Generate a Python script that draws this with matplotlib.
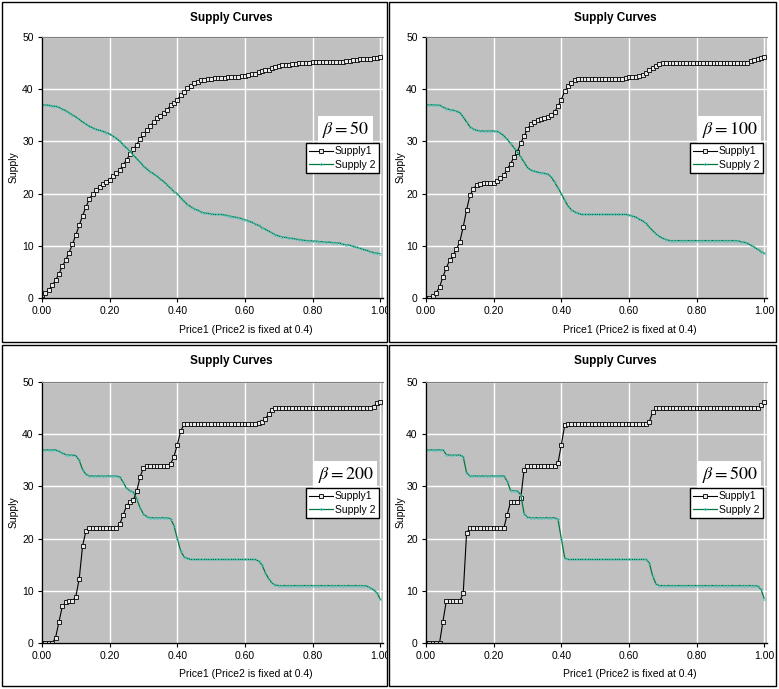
import numpy as np
import matplotlib.pyplot as plt
from matplotlib.patches import Rectangle

plt.rcParams['font.family'] = ['Liberation Sans', 'DejaVu Sans']
plt.rcParams['mathtext.fontset'] = 'stix'

# price1 runs from 0.00 to 1.00 in steps of 0.01
price1 = np.round(np.arange(101) * 0.01, 2)
betas = [50, 100, 200, 500]

supply1_b50 = [
    0.6, 1.0, 1.5, 2.4, 3.4, 4.6, 6.1, 7.2, 8.7, 10.3,
    12.1, 13.9, 15.8, 17.4, 19.0, 19.9, 20.6, 21.3, 21.8, 22.3,
    22.7, 23.3, 23.9, 24.5, 25.5, 26.5, 27.5, 28.5, 29.4, 30.5,
    31.4, 32.1, 32.9, 33.7, 34.4, 34.9, 35.4, 36.0, 36.9, 37.4,
    38.0, 38.8, 39.5, 40.2, 40.7, 41.1, 41.4, 41.7, 41.8, 41.9,
    42.0, 42.1, 42.1, 42.2, 42.2, 42.3, 42.3, 42.3, 42.4, 42.5,
    42.6, 42.7, 42.9, 43.0, 43.2, 43.4, 43.6, 43.7, 44.0, 44.2,
    44.4, 44.6, 44.6, 44.7, 44.8, 44.9, 45.0, 45.0, 45.0, 45.1,
    45.2, 45.2, 45.2, 45.2, 45.2, 45.2, 45.2, 45.2, 45.2, 45.3,
    45.4, 45.4, 45.5, 45.5, 45.7, 45.7, 45.7, 45.8, 45.9, 46.0,
    46.2]
supply2_b50 = [
    37.0, 37.0, 36.9, 36.8, 36.7, 36.5, 36.2, 35.9, 35.5, 35.1,
    34.7, 34.2, 33.7, 33.3, 32.9, 32.6, 32.3, 32.1, 31.9, 31.7,
    31.4, 31.0, 30.6, 30.0, 29.4, 28.7, 28.1, 27.4, 26.7, 26.0,
    25.3, 24.7, 24.2, 23.8, 23.3, 22.8, 22.3, 21.7, 21.0, 20.4,
    20.0, 19.2, 18.5, 17.9, 17.5, 17.1, 16.8, 16.5, 16.3, 16.2,
    16.1, 16.0, 16.0, 16.0, 15.9, 15.8, 15.6, 15.5, 15.4, 15.2,
    15.0, 14.8, 14.5, 14.2, 13.9, 13.5, 13.2, 12.8, 12.5, 12.1,
    11.9, 11.7, 11.6, 11.5, 11.4, 11.3, 11.2, 11.1, 11.0, 11.0,
    10.9, 10.9, 10.8, 10.8, 10.7, 10.7, 10.6, 10.6, 10.5, 10.3,
    10.2, 10.1, 9.9, 9.7, 9.5, 9.3, 9.1, 8.9, 8.7, 8.6,
    8.5]

supply1_b100 = [
    0.0, 0.0, 0.3, 1.0, 2.1, 4.0, 5.8, 7.2, 8.2, 9.3,
    10.8, 13.6, 16.9, 19.7, 20.9, 21.7, 21.9, 22.0, 22.0, 22.0,
    22.1, 22.4, 22.9, 23.5, 24.7, 25.7, 27.0, 28.0, 29.7, 31.0,
    32.4, 33.3, 33.8, 34.1, 34.3, 34.4, 34.6, 35.0, 35.7, 36.7,
    38.0, 39.6, 40.6, 41.2, 41.7, 41.9, 42.0, 42.0, 42.0, 42.0,
    42.0, 42.0, 42.0, 42.0, 42.0, 42.0, 42.0, 42.0, 42.0, 42.1,
    42.3, 42.4, 42.4, 42.6, 42.7, 43.1, 43.6, 44.0, 44.4, 44.8,
    45.0, 45.0, 45.0, 45.0, 45.0, 45.0, 45.0, 45.0, 45.0, 45.0,
    45.0, 45.0, 45.0, 45.0, 45.0, 45.0, 45.0, 45.0, 45.0, 45.0,
    45.0, 45.0, 45.0, 45.0, 45.0, 45.1, 45.4, 45.6, 45.7, 45.9,
    46.2]
supply2_b100 = [
    37.0, 37.0, 37.0, 37.0, 36.9, 36.6, 36.3, 36.1, 36.0, 35.8,
    35.5, 34.7, 33.7, 32.8, 32.4, 32.1, 32.0, 32.0, 32.0, 32.0,
    32.0, 31.9, 31.6, 31.1, 30.4, 29.6, 28.8, 28.0, 27.0, 26.0,
    25.0, 24.5, 24.3, 24.1, 24.0, 23.9, 23.7, 23.2, 22.2, 21.1,
    20.0, 18.7, 17.6, 16.9, 16.5, 16.2, 16.0, 16.0, 16.0, 16.0,
    16.0, 16.0, 16.0, 16.0, 16.0, 16.0, 16.0, 16.0, 16.0, 16.0,
    15.9, 15.7, 15.5, 15.1, 14.8, 14.3, 13.6, 12.9, 12.3, 11.8,
    11.4, 11.2, 11.0, 11.0, 11.0, 11.0, 11.0, 11.0, 11.0, 11.0,
    11.0, 11.0, 11.0, 11.0, 11.0, 11.0, 11.0, 11.0, 11.0, 11.0,
    11.0, 11.0, 11.0, 10.8, 10.7, 10.5, 10.1, 9.8, 9.3, 8.9,
    8.6]

supply1_b200 = [
    0.0, 0.0, 0.0, 0.0, 1.0, 4.0, 7.0, 7.8, 8.0, 8.0,
    8.9, 12.3, 18.6, 21.5, 22.0, 22.0, 22.0, 22.0, 22.0, 22.0,
    22.0, 22.0, 22.0, 22.8, 24.5, 26.3, 27.0, 27.4, 29.1, 31.8,
    33.6, 34.0, 34.0, 34.0, 34.0, 34.0, 34.0, 34.0, 34.3, 35.7,
    38.0, 40.6, 41.9, 42.0, 42.0, 42.0, 42.0, 42.0, 42.0, 42.0,
    42.0, 42.0, 42.0, 42.0, 42.0, 42.0, 42.0, 42.0, 42.0, 42.0,
    42.0, 42.0, 42.0, 42.0, 42.1, 42.4, 42.9, 43.9, 44.7, 45.0,
    45.0, 45.0, 45.0, 45.0, 45.0, 45.0, 45.0, 45.0, 45.0, 45.0,
    45.0, 45.0, 45.0, 45.0, 45.0, 45.0, 45.0, 45.0, 45.0, 45.0,
    45.0, 45.0, 45.0, 45.0, 45.0, 45.0, 45.0, 45.0, 45.3, 45.9,
    46.2]
supply2_b200 = [
    37.0, 37.0, 37.0, 37.0, 37.0, 36.7, 36.4, 36.1, 36.0, 36.0,
    35.9, 35.0, 33.2, 32.3, 32.0, 32.0, 32.0, 32.0, 32.0, 32.0,
    32.0, 32.0, 32.0, 31.8, 30.8, 29.6, 29.2, 28.9, 27.6, 25.9,
    24.7, 24.2, 24.0, 24.0, 24.0, 24.0, 24.0, 24.0, 23.8, 22.5,
    20.0, 17.6, 16.5, 16.2, 16.0, 16.0, 16.0, 16.0, 16.0, 16.0,
    16.0, 16.0, 16.0, 16.0, 16.0, 16.0, 16.0, 16.0, 16.0, 16.0,
    16.0, 16.0, 16.0, 16.0, 15.7, 15.0, 13.5, 12.3, 11.5, 11.1,
    11.0, 11.0, 11.0, 11.0, 11.0, 11.0, 11.0, 11.0, 11.0, 11.0,
    11.0, 11.0, 11.0, 11.0, 11.0, 11.0, 11.0, 11.0, 11.0, 11.0,
    11.0, 11.0, 11.0, 11.0, 11.0, 11.0, 10.9, 10.6, 10.2, 9.6,
    8.4]

supply1_b500 = [
    0.0, 0.0, 0.0, 0.0, 0.0, 4.1, 8.0, 8.0, 8.0, 8.0,
    8.0, 9.5, 21.1, 22.0, 22.0, 22.0, 22.0, 22.0, 22.0, 22.0,
    22.0, 22.0, 22.0, 22.0, 24.6, 27.0, 27.0, 27.0, 27.7, 33.2,
    34.0, 34.0, 34.0, 34.0, 34.0, 34.0, 34.0, 34.0, 34.0, 34.4,
    38.0, 41.7, 42.0, 42.0, 42.0, 42.0, 42.0, 42.0, 42.0, 42.0,
    42.0, 42.0, 42.0, 42.0, 42.0, 42.0, 42.0, 42.0, 42.0, 42.0,
    42.0, 42.0, 42.0, 42.0, 42.0, 42.0, 42.4, 44.2, 45.0, 45.0,
    45.0, 45.0, 45.0, 45.0, 45.0, 45.0, 45.0, 45.0, 45.0, 45.0,
    45.0, 45.0, 45.0, 45.0, 45.0, 45.0, 45.0, 45.0, 45.0, 45.0,
    45.0, 45.0, 45.0, 45.0, 45.0, 45.0, 45.0, 45.0, 45.0, 45.5,
    46.2]
supply2_b500 = [
    37.0, 37.0, 37.0, 37.0, 37.0, 37.0, 36.1, 36.0, 36.0, 36.0,
    36.0, 35.7, 32.6, 32.0, 32.0, 32.0, 32.0, 32.0, 32.0, 32.0,
    32.0, 32.0, 32.0, 32.0, 31.0, 29.2, 29.2, 29.1, 28.4, 24.8,
    24.1, 24.0, 24.0, 24.0, 24.0, 24.0, 24.0, 24.0, 24.0, 23.7,
    20.0, 16.3, 16.0, 16.0, 16.0, 16.0, 16.0, 16.0, 16.0, 16.0,
    16.0, 16.0, 16.0, 16.0, 16.0, 16.0, 16.0, 16.0, 16.0, 16.0,
    16.0, 16.0, 16.0, 16.0, 16.0, 16.0, 15.4, 12.8, 11.3, 11.0,
    11.0, 11.0, 11.0, 11.0, 11.0, 11.0, 11.0, 11.0, 11.0, 11.0,
    11.0, 11.0, 11.0, 11.0, 11.0, 11.0, 11.0, 11.0, 11.0, 11.0,
    11.0, 11.0, 11.0, 11.0, 11.0, 11.0, 11.0, 11.0, 10.9, 10.3,
    8.5]

supply1_all = [supply1_b50, supply1_b100, supply1_b200, supply1_b500]
supply2_all = [supply2_b50, supply2_b100, supply2_b200, supply2_b500]

W, H = 779, 689
fig = plt.figure(figsize=(W / 100, H / 100), dpi=100)


def fx(x):
    return x / W


def fy(y):
    return 1 - y / H


# frame (left, top, right, bottom) and plot area (left, top) in pixels
frames = [(2, 2, 387, 342), (389, 2, 776, 342), (2, 345, 387, 686), (389, 345, 776, 686)]
plot_tl = [(42, 37), (426, 37), (42, 382), (426, 382)]
pw, ph = 341, 261

for i in range(4):
    l, t, r, b = frames[i]
    frame = Rectangle((fx(l), fy(b)), fx(r - l), (b - t) / H, transform=fig.transFigure,
                      fill=False, ec='black', lw=1, zorder=10)
    fig.add_artist(frame)

    x0, y0 = plot_tl[i]
    ax = fig.add_axes([fx(x0), fy(y0 + ph), pw / W, ph / H])
    ax.set_facecolor('#c0c0c0')

    ax.plot(price1, supply1_all[i], color='black', lw=0.8, marker='s', ms=2.2,
            mfc='#e8e8e8', mec='black', mew=0.6, label='Supply1')
    ax.plot(price1, supply2_all[i], color='#007a3d', lw=0.9, marker='o', ms=1.5,
            mfc='none', mec='#5cc4c4', mew=0.5, label='Supply 2')

    ax.set_xlim(0, 1.008)
    ax.set_ylim(0, 50)
    ax.set_xticks([0, 0.2, 0.4, 0.6, 0.8, 1.0])
    ax.set_xticklabels(['0.00', '0.20', '0.40', '0.60', '0.80', '1.00'])
    ax.set_yticks([0, 10, 20, 30, 40, 50])
    ax.tick_params(labelsize=7.5, length=3, width=0.8, pad=3)
    ax.grid(True, color='white', lw=1)
    ax.set_axisbelow(True)
    ax.spines['right'].set_visible(False)
    ax.spines['top'].set_color('#808080')
    ax.spines['left'].set_linewidth(1)
    ax.spines['bottom'].set_linewidth(1)

    for lab in ax.get_xticklabels():
        lab.set_clip_path(frame)
        lab.set_clip_on(True)

    ax.text(0.89, 0.645, r'$\beta = %d$' % betas[i], transform=ax.transAxes,
            fontsize=13, ha='center', va='center',
            bbox=dict(fc='white', ec='none', boxstyle='square,pad=0.2'))
    leg = ax.legend(loc='upper right', bbox_to_anchor=(0.987, 0.593), fontsize=7.5,
                    fancybox=False, framealpha=1, edgecolor='black', borderpad=0.3,
                    labelspacing=0.35, handlelength=2.3, handletextpad=0.2,
                    borderaxespad=0, numpoints=1)
    leg.get_frame().set_linewidth(1)

    fig.text(fx(x0 + 189), fy(t + 16), 'Supply Curves', fontsize=8.5, fontweight='bold',
             ha='center', va='center')
    fig.text(fx(l + 12), fy(y0 + 130), 'Supply', fontsize=7.5, rotation=90,
             ha='center', va='center')
    fig.text(fx(x0 + 204), fy(b - 12), 'Price1 (Price2 is fixed at 0.4)', fontsize=7.5,
             ha='center', va='center')

fig.savefig('out.png', dpi=100)
